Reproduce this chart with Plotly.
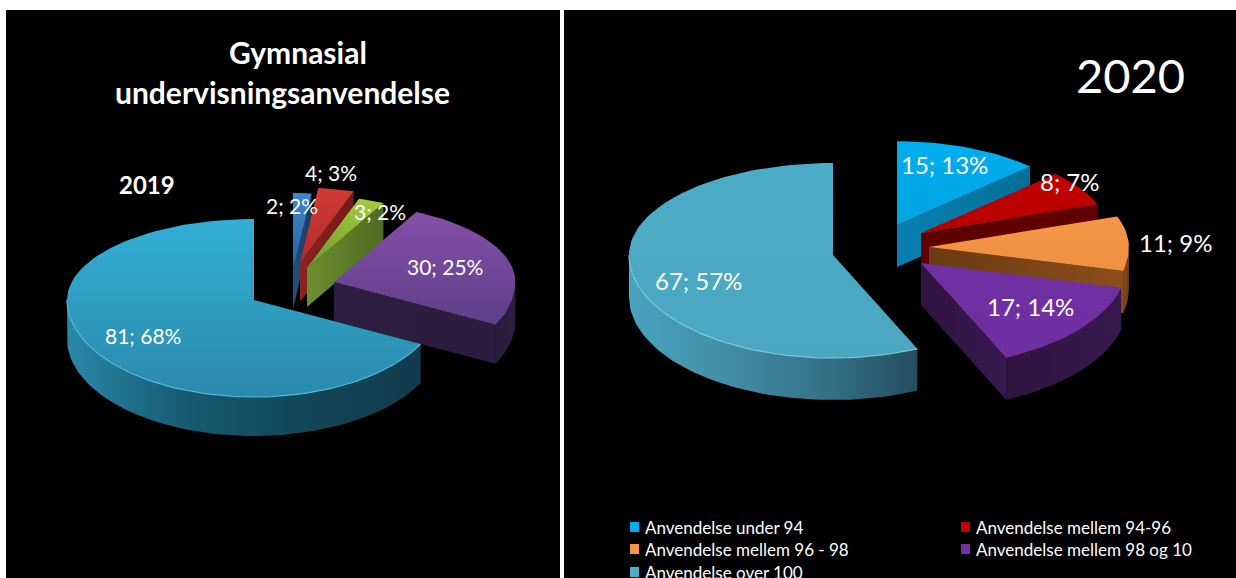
import math
import plotly.graph_objects as go

# ---- data ----
labels_2019 = ["Anvendelse under 94", "Anvendelse mellem 94-96", "Anvendelse mellem 96 - 98",
               "Anvendelse mellem 98 og 10", "Anvendelse over 100"]
values_2019 = [2, 4, 3, 30, 81]
values_2020 = [15, 8, 11, 17, 67]
labels_2020 = labels_2019

title_lines = ["Gymnasial", "undervisningsanvendelse"]
year_a = "2019"
year_b = "2020"

# ---- style ----
colors_2019 = [("#3f86cc", "#2a62a0"), ("#d23a36", "#b02c2a"), ("#a4cc40", "#6f9a2c"),
               ("#8450a8", "#5f3f88"), ("#33aed6", "#2a8aab")]
walls_2019 = [("#244f80", "#183a60"), ("#8a2321", "#701c1a"), ("#6d8f2f", "#4d6b22"),
              ("#2e1f40", "#2a1c3c"), ("#2a89a8", "#175a72", "#124658", "#103c4c")]
colors_2020 = [("#00aeef", "#00a4e0"), ("#c00000", "#b80000"), ("#f79646", "#ee8f42"),
               ("#7030a0", "#702fa0"), ("#4bacc6", "#4ba6c2")]
walls_2020 = [("#0a7fb0", "#007099"), ("#5e0000", "#600000"), ("#6a3a12", "#8a4f1c"),
              ("#30143f", "#381850"), ("#4aa3bf", "#428ea8", "#35738a", "#234e5e")]
rim_2019 = "#4fbcdc"
rim_2020 = "#7cc8dc"
PX_FONT = "Lato"

# geometry of the projected pies, in page pixels
pie_a = dict(cx=254, cy=300, rx=187, back=81, front=97, depth=39,
             offset=[(39, -30), (46, -37), (53, -32), (80, -18), (0, 0)],
             scale=[0.95, 0.93, 0.9, 0.97, 1])
pie_b = dict(cx=833, cy=255, rx=204, back=92, front=103, depth=42,
             offset=[(64, -30), (88, -22), (96, -8), (88, 8), (0, 0)],
             scale=[0.91, 0.92, 0.98, 1.01, 1])


def point(p, k, deg, ox, oy):
    t = math.radians(deg)
    s, c = math.sin(t), math.cos(t)
    ry = p["back"] if c > 0 else p["front"]
    return p["cx"] + ox + k * p["rx"] * s, p["cy"] + oy - k * ry * c


def arc(p, k, a, b, ox, oy):
    n = max(2, int(abs(b - a) / 2) + 1)
    return [point(p, k, a + (b - a) * i / n, ox, oy) for i in range(n + 1)]


def poly(pts, stops, kind):
    xs = [q[0] for q in pts] + [pts[0][0]]
    ys = [q[1] for q in pts] + [pts[0][1]]
    n = len(stops) - 1
    scale = [[j / n, c] for j, c in enumerate(stops)]
    return go.Scatter(x=xs, y=ys, mode="lines", fill="toself", line=dict(width=0, color=stops[0]),
                      fillgradient=dict(type=kind, colorscale=scale),
                      hoverinfo="skip", showlegend=False)


def pie_traces(p, values, tops, walls, rim_color):
    total = sum(values)
    out, start = [], 0.0
    spans = []
    for v in values:
        end = start + 360.0 * v / total
        spans.append((start, end))
        start = end
    for i, (a, b) in enumerate(spans):
        ox, oy = p["offset"][i]
        k = p["scale"][i]
        d = p["depth"]
        apex = (p["cx"] + ox, p["cy"] + oy)
        # cut face turned towards the viewer
        if b < 180:
            tip = point(p, k, b, ox, oy)
            out.append(poly([apex, tip, (tip[0], tip[1] + d), (apex[0], apex[1] + d)],
                            walls[i], "horizontal"))
        # outer wall, only where the rim faces the viewer
        lo, hi = max(a, 90), min(b, 270)
        rim = None
        if hi > lo:
            rim = arc(p, k, lo, hi, ox, oy)
            lower = [(x, y + d) for x, y in reversed(rim)]
            stops = walls[i] if a > 90 else list(reversed(walls[i]))
            out.append(poly(rim + lower, stops, "horizontal"))
        # top face; vertical gradients run from the lower edge up
        face = [apex] + arc(p, k, a, b, ox, oy)
        out.append(poly(face, [tops[i][1], tops[i][0]], "vertical"))
        if rim is not None and i == len(values) - 1:
            out.append(go.Scatter(x=[q[0] for q in rim], y=[q[1] for q in rim], mode="lines",
                                  line=dict(width=1.2, color=rim_color),
                                  hoverinfo="skip", showlegend=False))
    return out


def slice_text(values):
    total = sum(values)
    return [f"{v}; {round(100 * v / total)}%" for v in values]


fig = go.Figure()
for tr in pie_traces(pie_a, values_2019, colors_2019, walls_2019, rim_2019):
    fig.add_trace(tr)
for tr in pie_traces(pie_b, values_2020, colors_2020, walls_2020, rim_2020):
    fig.add_trace(tr)

notes = []


def note(x, y, text, size, bold=False, anchor="center"):
    notes.append(dict(x=x, y=y, xref="x", yref="y", text=f"<b>{text}</b>" if bold else text,
                      showarrow=False, xanchor=anchor, yanchor="middle",
                      font=dict(family=PX_FONT, size=size, color="white")))


for txt, (x, y) in zip(slice_text(values_2019),
                       [(292, 205), (331, 172), (380, 211), (445, 266), (143, 335)]):
    note(x, y, txt, 21)
for txt, (x, y) in zip(slice_text(values_2020),
                       [(944, 164), (1070, 181), (1175, 242), (1030, 306), (698, 280)]):
    note(x, y, txt, 24)
note(298, 52, title_lines[0], 30, True)
note(282, 92, title_lines[1], 30, True)
note(147, 184, year_a, 24, True)
note(1130, 75, year_b, 47)

shapes = [
    dict(type="rect", xref="x", yref="y", x0=6, x1=560, y0=10, y1=578,
         fillcolor="black", line_width=0, layer="below"),
    dict(type="rect", xref="x", yref="y", x0=564, x1=1236, y0=10, y1=578,
         fillcolor="black", line_width=0, layer="below"),
]
legend_pos = [(630, 527), (961, 527), (630, 549), (961, 549), (630, 572)]
swatches = ["#00aeef", "#c00000", "#f79646", "#7030a0", "#4bacc6"]
for lab, col, (x, y) in zip(labels_2020, swatches, legend_pos):
    shapes.append(dict(type="rect", xref="x", yref="y", x0=x, x1=x + 9, y0=y - 5, y1=y + 5,
                       fillcolor=col, line_width=0))
    note(x + 13, y, lab, 17, anchor="left")

fig.update_layout(
    width=1236, height=578, margin=dict(l=0, r=0, t=0, b=0),
    paper_bgcolor="white", plot_bgcolor="white", showlegend=False,
    xaxis=dict(range=[0, 1236], visible=False, fixedrange=True),
    yaxis=dict(range=[578, 0], visible=False, fixedrange=True),
    shapes=shapes, annotations=notes,
)
fig.write_html("out.html", config=dict(displayModeBar=False),
               post_script="document.body.style.margin='0';document.body.style.overflow='hidden';")
